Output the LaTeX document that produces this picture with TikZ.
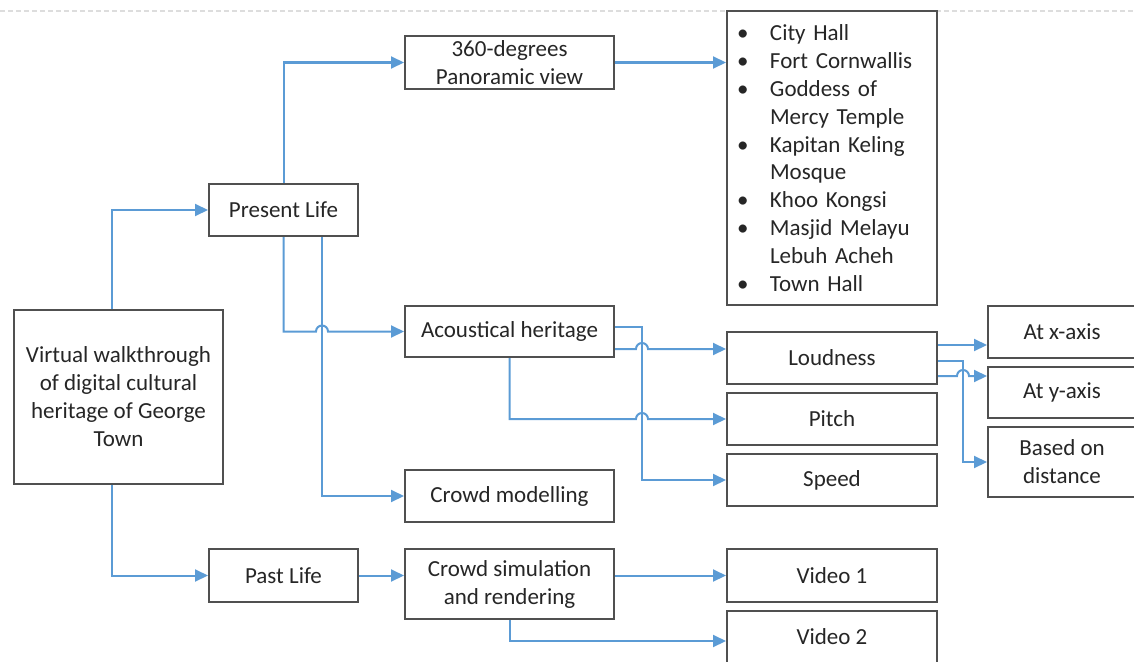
\documentclass[tikz,border=0pt]{standalone}
\usepackage{fontspec}
\setmainfont{Carlito}
\usetikzlibrary{arrows.meta,calc}
\definecolor{linkblue}{HTML}{5B9BD5}
\definecolor{boxgray}{HTML}{505050}
\definecolor{inkgray}{HTML}{262626}
\definecolor{rulegray}{HTML}{DDDDDD}
\begin{document}
\begin{tikzpicture}[x=1pt,y=-1pt,
  box/.style={draw=boxgray, line width=2pt, fill=white, inner sep=0pt,
    align=center, text=inkgray, font=\fontsize{23}{28}\selectfont},
  conn/.style={draw=linkblue, line width=2pt, -{Triangle[length=13pt,width=12pt]}},
  hop/.style={}]
\useasboundingbox (0,0) rectangle (1134,661);
\clip (0,0) rectangle (1134,661);

% page rule along the top
\draw[rulegray, line width=2pt, dash pattern=on 5pt off 3pt] (0,11) -- (1134,11);

% boxes
\node[box, minimum width=209pt, minimum height=174pt] (main) at (118.5,397)
  {Virtual walkthrough\\of digital cultural\\heritage of George\\Town};
\node[box, minimum width=149pt, minimum height=52pt] (present) at (283.5,210) {Present Life};
\node[box, minimum width=149pt, minimum height=53pt] (past) at (283.5,575.5) {Past Life};
\node[box, minimum width=209pt, minimum height=53pt] (pano) at (509.5,62.5) {360-degrees\\Panoramic view};
\node[box, minimum width=209pt, minimum height=51pt] (acoustic) at (509.5,331.5) {Acoustical heritage};
\node[box, minimum width=209pt, minimum height=52pt] (crowdmod) at (509.5,496) {Crowd modelling};
\node[box, minimum width=209pt, minimum height=70pt] (crowdsim) at (509.5,584) {Crowd simulation\\and rendering};
\node[box, minimum width=210pt, minimum height=294pt, text width=190pt, inner xsep=10pt,
  align=left, font=\fontsize{23}{27.8}\selectfont] (list) at (832,158)
  {\makebox[33pt][l]{\textbullet}City Hall\\
   \makebox[33pt][l]{\textbullet}Fort Cornwallis\\
   \makebox[33pt][l]{\textbullet}Goddess of\\
   \hspace*{33pt}Mercy Temple\\
   \makebox[33pt][l]{\textbullet}Kapitan Keling\\
   \hspace*{33pt}Mosque\\
   \makebox[33pt][l]{\textbullet}Khoo Kongsi\\
   \makebox[33pt][l]{\textbullet}Masjid Melayu\\
   \hspace*{33pt}Lebuh Acheh\\
   \makebox[33pt][l]{\textbullet}Town Hall};
\node[box, minimum width=210pt, minimum height=52pt] (loudness) at (832,358) {Loudness};
\node[box, minimum width=210pt, minimum height=52pt] (pitch) at (832,419) {Pitch};
\node[box, minimum width=210pt, minimum height=52pt] (speed) at (832,480) {Speed};
\node[box, minimum width=210pt, minimum height=53pt] (video1) at (832,575.5) {Video 1};
\node[box, minimum width=210pt, minimum height=52pt] (video2) at (832,637) {Video 2};
\node[box, minimum width=148pt, minimum height=52pt] (atx) at (1062,332) {At x-axis};
\node[box, minimum width=148pt, minimum height=51pt] (aty) at (1062,392.5) {At y-axis};
\node[box, minimum width=148pt, minimum height=70pt] (dist) at (1062,462) {Based on\\distance};

% routing points
\coordinate (mtop) at ($(main.north)+(-6.5,0)$);
\coordinate (mbot) at ($(main.south)+(-6.5,0)$);
\coordinate (xA) at ($(present.south)+(38.5,0)$);
\coordinate (xB) at ($(acoustic.east)+(27,0)$);
\coordinate (xC) at ($(loudness.east)+(25,0)$);
\coordinate (a1) at ($(acoustic.east)+(0,-4.5)$);
\coordinate (a2) at ($(acoustic.east)+(0,17.5)$);
\coordinate (l1) at ($(loudness.east)+(0,-13)$);
\coordinate (l2) at ($(loudness.east)+(0,3)$);
\coordinate (l3) at ($(loudness.east)+(0,18)$);

% connectors (line hops where a horizontal crosses a vertical)
\draw[conn] (mtop) |- (present.west);
\draw[conn] (mbot) |- (past.west);
\draw[conn] (present.north) |- (pano.west);
\draw[conn] (xA) |- (crowdmod.west);
\draw[conn] (present.south) |- ($(xA |- acoustic.west)+(-6,0)$)
  arc[start angle=180, end angle=0, radius=6pt] -- (acoustic.west);
\draw[conn] (pano.east) -- (list.west |- pano.east);
\draw[conn] (a1) -| (xB |- speed.west) -- (speed.west);
\draw[conn] (a2) -- ($(xB |- a2)+(-6,0)$)
  arc[start angle=180, end angle=0, radius=6pt] -- (loudness.west |- a2);
\draw[conn] (acoustic.south) |- ($(xB |- pitch.west)+(-6,0)$)
  arc[start angle=180, end angle=0, radius=6pt] -- (pitch.west);
\draw[conn] (l1) -- (atx.west |- l1);
\draw[conn] (l2) -| (xC |- dist.west) -- (dist.west);
\draw[conn] (l3) -- ($(xC |- l3)+(-6,0)$)
  arc[start angle=180, end angle=0, radius=6pt] -- (aty.west |- l3);
\draw[conn] (past.east) -- (crowdsim.west |- past.east);
\draw[conn] (crowdsim.east |- video1.west) -- (video1.west);
\draw[conn] (crowdsim.south) |- ($(video2.west)+(0,4)$);
\end{tikzpicture}
\end{document}
